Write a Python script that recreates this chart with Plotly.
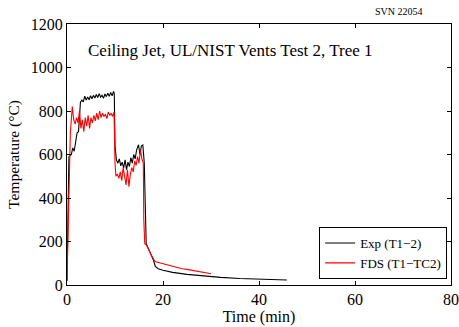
import plotly.graph_objects as go

# Exp (T1-2)
exp_t = [0.0, 0.2, 0.4, 0.9, 1.2, 1.5, 1.8, 2.1, 2.4, 2.8, 3.1, 3.4, 3.7, 4.0, 4.3, 4.6,
         4.9, 5.2, 5.5, 5.8, 6.1, 6.4, 6.7, 7.0, 7.3, 7.6, 7.9, 8.2, 8.5, 8.8, 9.1,
         9.4, 9.7, 9.85, 10.0, 10.3, 10.6, 10.9, 11.2, 11.5, 11.8, 12.1, 12.4, 12.7,
         13.0, 13.3, 13.6, 13.9, 14.2, 14.5, 14.9, 15.2, 15.5, 15.8, 16.1, 16.3, 16.5,
         17.0, 17.5, 18.0, 18.4, 19.0, 20.0, 22.0, 25.0, 28.0, 32.0, 36.0, 40.0, 43.0, 45.8]
exp_T = [20, 300, 590, 600, 630, 615, 655, 700, 705, 840, 850, 842, 868, 850, 864, 852,
         870, 856, 872, 860, 876, 862, 880, 864, 872, 858, 878, 866, 882, 868, 885,
         870, 890, 880, 640, 575, 560, 580, 548, 565, 538, 575, 530, 565, 545, 585,
         560, 600, 580, 620, 645, 600, 640, 644, 560, 350, 190, 165, 140, 115, 85,
         75, 68, 58, 49, 42, 35, 30, 27, 25, 23]

# FDS (T1-TC2)
fds_t = [0.0, 0.3, 0.7, 1.1, 1.4, 1.7, 2.0, 2.3, 2.6, 2.9, 3.2, 3.5, 3.8, 4.1, 4.4, 4.7,
         5.0, 5.3, 5.6, 5.9, 6.2, 6.5, 6.8, 7.1, 7.4, 7.7, 8.0, 8.3, 8.6, 8.9, 9.2,
         9.5, 9.8, 10.0, 10.2, 10.5, 10.8, 11.1, 11.4, 11.7, 12.0, 12.3, 12.6, 12.9,
         13.2, 13.5, 13.8, 14.1, 14.4, 14.7, 15.0, 15.3, 15.6, 15.9, 16.0, 16.2, 16.6,
         17.0, 17.5, 18.3, 19.0, 20.0, 21.0, 22.0, 23.0, 24.0, 25.0, 26.0, 27.0, 28.0,
         29.0, 30.0]
fds_T = [20, 350, 700, 820, 760, 740, 770, 745, 800, 720, 760, 705, 770, 730, 780, 720,
         770, 745, 780, 755, 790, 760, 800, 770, 790, 775, 785, 765, 795, 780, 790,
         775, 795, 560, 500, 510, 490, 520, 480, 540, 490, 460, 530, 452, 510, 540,
         520, 570, 550, 590, 560, 620, 580, 560, 300, 190, 182, 162, 140, 108, 104,
         98, 92, 84, 80, 75, 72, 68, 65, 61, 56, 52]

serif = "Liberation Serif, Times New Roman, serif"

fig = go.Figure()
fig.add_trace(go.Scatter(x=exp_t, y=exp_T, mode="lines", name="Exp (T1\u22122)",
                         line=dict(color="black", width=1.1)))
fig.add_trace(go.Scatter(x=fds_t, y=fds_T, mode="lines", name="FDS (T1\u2212TC2)",
                         line=dict(color="red", width=1.1)))

axis_style = dict(showline=True, linecolor="black", linewidth=1, mirror="ticks",
                  ticks="inside", ticklen=4, tickcolor="black", showgrid=False,
                  zeroline=False, automargin=False,
                  tickfont=dict(family=serif, size=16, color="black"))

fig.update_xaxes(range=[0, 80], tickvals=[0, 20, 40, 60, 80],
                 title=dict(text="Time (min)", standoff=0,
                            font=dict(family=serif, size=16, color="black")),
                 **axis_style)
fig.update_yaxes(range=[0, 1200], tickvals=[0, 200, 400, 600, 800, 1000, 1200],
                 title=dict(text="Temperature (\u00b0C)", standoff=7,
                            font=dict(family=serif, size=15.5, color="black")),
                 **axis_style)

fig.add_annotation(text="Ceiling Jet, UL/NIST Vents Test 2, Tree 1", xref="paper", yref="paper",
                   x=0.049, y=0.90, xanchor="left", yanchor="middle", showarrow=False,
                   font=dict(family=serif, size=17, color="black"))
fig.add_annotation(text="SVN 22054", xref="paper", yref="paper", x=0.932, y=1.048,
                   xanchor="right", yanchor="middle", showarrow=False,
                   font=dict(family=serif, size=10, color="black"))

fig.update_layout(
    width=459, height=327,
    margin=dict(l=67, r=8, t=24, b=42, autoexpand=False),
    paper_bgcolor="white", plot_bgcolor="white",
    font=dict(family=serif, color="black"),
    legend=dict(x=0.99, y=0.023, xanchor="right", yanchor="bottom",
                bordercolor="black", borderwidth=1, bgcolor="white",
                font=dict(family=serif, size=13, color="black"),
                tracegroupgap=0, itemwidth=30),
    showlegend=True,
)

# the page body has a default 8px margin; drop it so the figure fills the window
fig.write_html("out.html", config={"displayModeBar": False},
               post_script="document.body.style.margin='0';document.body.style.overflow='hidden';")
